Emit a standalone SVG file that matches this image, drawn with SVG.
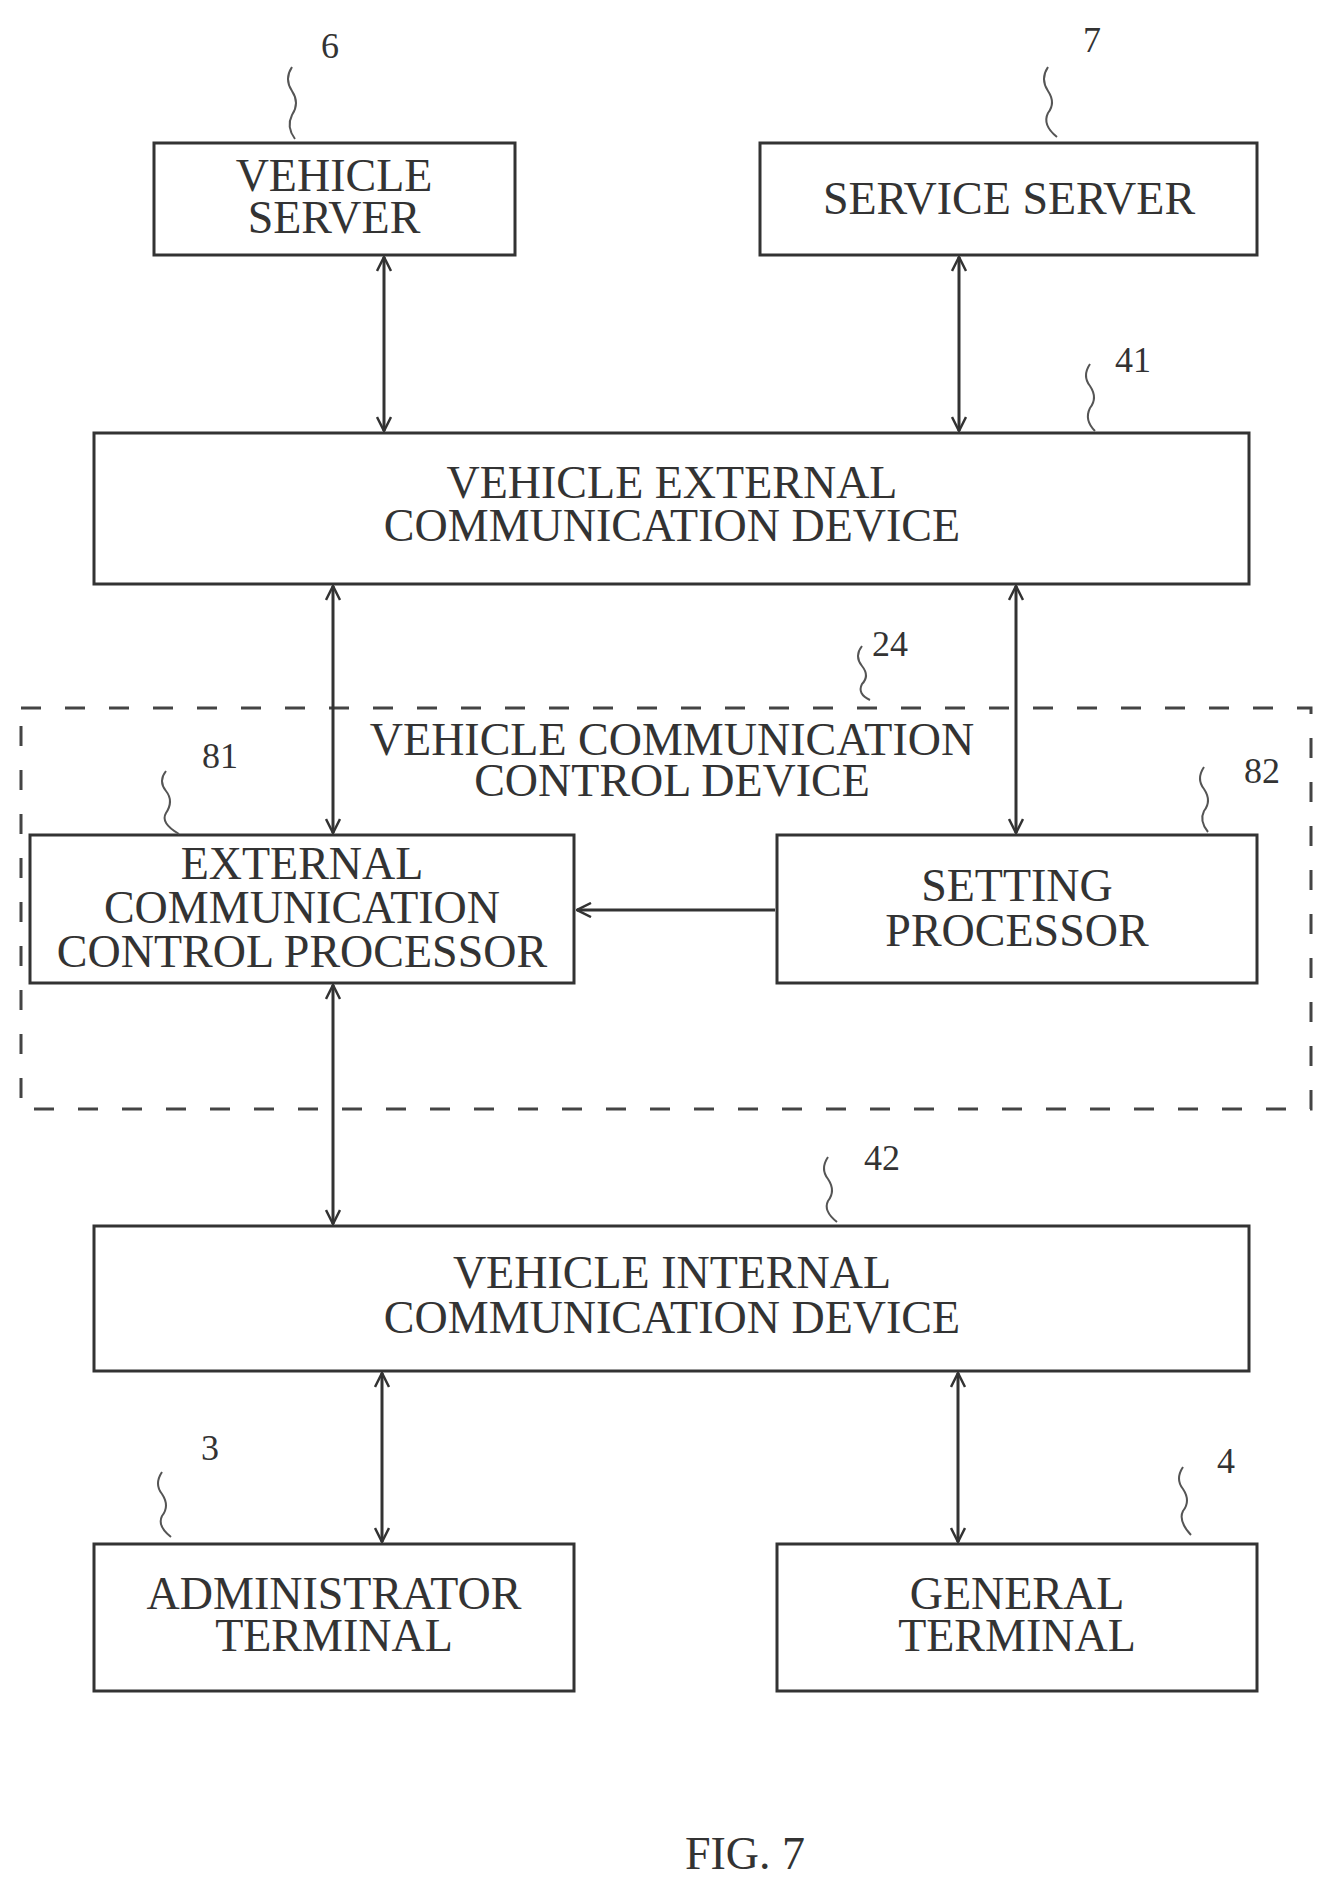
<svg xmlns="http://www.w3.org/2000/svg" width="1333" height="1889" viewBox="0 0 1333 1889">
<style>
rect.b{fill:none;stroke:#333;stroke-width:3}
text{font-family:"Liberation Serif",serif;font-size:46px;fill:#333;text-anchor:middle}
text.n{font-size:36px}
.c line{stroke:#333;stroke-width:3}
.s{fill:none;stroke:#555;stroke-width:2}
</style>
<defs><marker id="a" markerWidth="16" markerHeight="16" refX="15" refY="8" orient="auto-start-reverse" markerUnits="userSpaceOnUse"><path d="M1,1 L15,8 L1,15" fill="none" stroke="#333" stroke-width="2.5"/></marker></defs>
<rect width="1333" height="1889" fill="#fff"/>
<g id="vehicle-server"><rect class="b" x="154" y="143" width="361" height="112"/><text x="334" y="191">VEHICLE</text><text x="334" y="233">SERVER</text><text class="n" x="330" y="58">6</text><path class="s" d="M292,67 q-8,12 0,24 q8,12 0,24 q-6,12 3,24"/></g>
<g id="service-server"><rect class="b" x="760" y="143" width="497" height="112"/><text x="1009" y="214">SERVICE SERVER</text><text class="n" x="1092" y="52">7</text><path class="s" d="M1048,67 q-8,12 0,24 q8,12 0,22 q-6,12 9,24"/></g>
<g id="ext-comm"><rect class="b" x="94" y="433" width="1155" height="151"/><text x="672" y="498">VEHICLE EXTERNAL</text><text x="672" y="541">COMMUNICATION DEVICE</text><text class="n" x="1133" y="372">41</text><path class="s" d="M1090,364 q-8,12 0,22 q8,12 0,22 q-6,12 5,23"/></g>
<g id="comm-control"><rect x="21" y="708" width="1290" height="401" fill="none" stroke="#444" stroke-width="3" stroke-dasharray="20,24"/><text x="672" y="755">VEHICLE COMMUNICATION</text><text x="672" y="796">CONTROL DEVICE</text><text class="n" x="890" y="656">24</text><path class="s" d="M862,646 q-8,10 0,20 q8,10 0,18 q-5,10 8,16"/></g>
<g id="eccp"><rect class="b" x="30" y="835" width="544" height="148" stroke-width="4"/><text x="302" y="879" font-size="44">EXTERNAL</text><text x="302" y="923" font-size="44">COMMUNICATION</text><text x="302" y="967" font-size="44">CONTROL PROCESSOR</text><text class="n" x="220" y="768">81</text><path class="s" d="M166,771 q-8,10 0,20 q8,10 0,22 q-6,10 13,21"/></g>
<g id="setting"><rect class="b" x="777" y="835" width="480" height="148"/><text x="1017" y="901">SETTING</text><text x="1017" y="946">PROCESSOR</text><text class="n" x="1262" y="783">82</text><path class="s" d="M1204,767 q-8,12 0,22 q8,12 0,22 q-5,10 4,21"/></g>
<g id="int-comm"><rect class="b" x="94" y="1226" width="1155" height="145"/><text x="672" y="1288">VEHICLE INTERNAL</text><text x="672" y="1333">COMMUNICATION DEVICE</text><text class="n" x="882" y="1170">42</text><path class="s" d="M828,1157 q-8,12 0,22 q8,12 0,22 q-5,10 9,21"/></g>
<g id="admin"><rect class="b" x="94" y="1544" width="480" height="147"/><text x="334" y="1609">ADMINISTRATOR</text><text x="334" y="1651">TERMINAL</text><text class="n" x="210" y="1460">3</text><path class="s" d="M162,1472 q-8,12 0,22 q8,12 0,22 q-5,10 9,21"/></g>
<g id="general"><rect class="b" x="777" y="1544" width="480" height="147"/><text x="1017" y="1609">GENERAL</text><text x="1017" y="1651">TERMINAL</text><text class="n" x="1226" y="1473">4</text><path class="s" d="M1183,1467 q-8,12 0,22 q8,12 0,22 q-5,10 8,24"/></g>
<g class="c">
<line x1="384" y1="257" x2="384" y2="431" marker-start="url(#a)" marker-end="url(#a)"/>
<line x1="959" y1="257" x2="959" y2="431" marker-start="url(#a)" marker-end="url(#a)"/>
<line x1="333" y1="586" x2="333" y2="833" marker-start="url(#a)" marker-end="url(#a)"/>
<line x1="1016" y1="586" x2="1016" y2="833" marker-start="url(#a)" marker-end="url(#a)"/>
<line x1="775" y1="910" x2="577" y2="910" marker-end="url(#a)"/>
<line x1="333" y1="985" x2="333" y2="1224" marker-start="url(#a)" marker-end="url(#a)"/>
<line x1="382" y1="1373" x2="382" y2="1542" marker-start="url(#a)" marker-end="url(#a)"/>
<line x1="958" y1="1373" x2="958" y2="1542" marker-start="url(#a)" marker-end="url(#a)"/>
</g>
<text x="745" y="1869" font-size="60">FIG. 7</text>
</svg>
